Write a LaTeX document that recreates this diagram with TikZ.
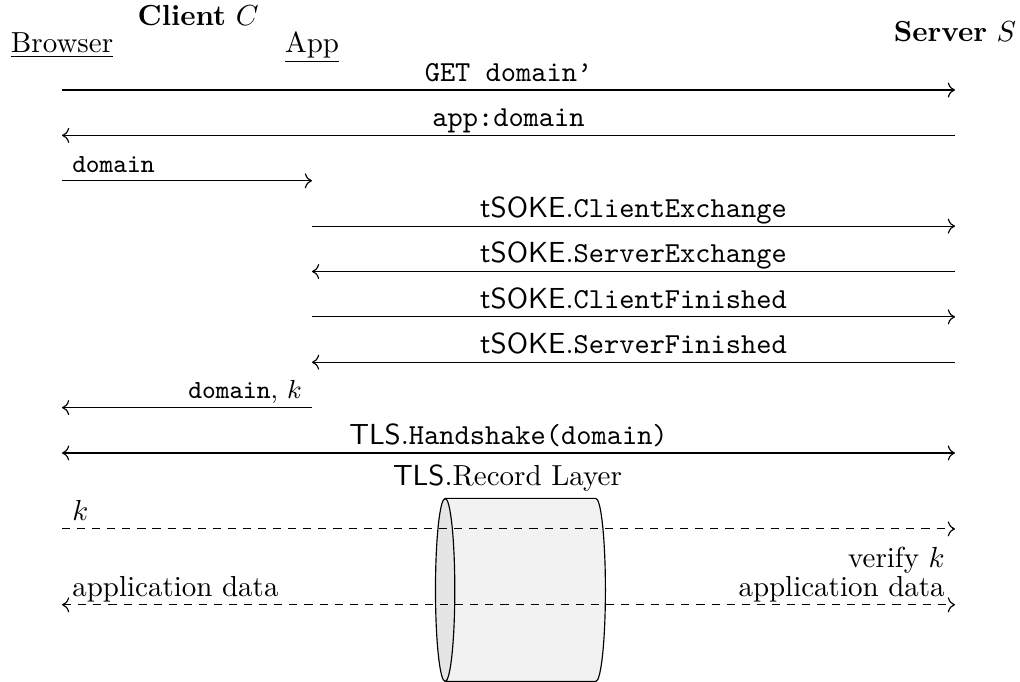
\documentclass[tikz,border=0pt]{standalone}
\usepackage{amsmath}
\usepackage{tikz}
\usetikzlibrary{arrows.meta,positioning,shapes.geometric}

\begin{document}
\begin{tikzpicture}[
    party/.style={inner sep=0pt, anchor=base},
    arrow/.style={->},
    dasharrow/.style={->, dash pattern=on 2.8pt off 2.4pt},
    lbl/.style={inner ysep=2.8pt, text depth=0pt},
    sidelbl/.style={lbl, font=\small},
    channel/.style={cylinder, shape border rotate=180, draw, aspect=1, minimum width=2.22cm, minimum height=2.06cm, cylinder uses custom fill, cylinder body fill=gray!10, cylinder end fill=gray!20}
]
\useasboundingbox (-0.752,-7.176) rectangle (11.612,1.091);

% Parties
\node[party] (browser) at (0,0.46) {\underline{Browser}};
\node[party] (app) at (3.03,0.46) {\underline{App}};
\node[party] (client) at (1.65,0.776) {\textbf{Client} $C$};
\node[party] (server) at (10.824,0.594) {\textbf{Server} $S$};

% Message rows on the three lifelines
\foreach \row/\y in {1/0,2/-0.55,3/-1.1,4/-1.65,5/-2.2,6/-2.75,7/-3.3,8/-3.85,9/-4.4,10/-5.32,11/-6.24}{
    \coordinate (b\row) at (0,\y);
    \coordinate (a\row) at (3.03,\y);
    \coordinate (s\row) at (10.824,\y);
}

% Messages
\draw[arrow] (b1) -- node[above, lbl] {\texttt{GET domain’}} (s1);
\draw[arrow] (s2) -- node[above, lbl] {\texttt{app:domain}} (b2);
\draw[arrow] (b3) -- node[pos=0, anchor=south west, sidelbl] {\texttt{domain}} (a3);
\draw[arrow] (a4) -- node[above, lbl] {$\mathsf{tSOKE}$.\texttt{ClientExchange}} (s4);
\draw[arrow] (s5) -- node[above, lbl] {$\mathsf{tSOKE}$.\texttt{ServerExchange}} (a5);
\draw[arrow] (a6) -- node[above, lbl] {$\mathsf{tSOKE}$.\texttt{ClientFinished}} (s6);
\draw[arrow] (s7) -- node[above, lbl] {$\mathsf{tSOKE}$.\texttt{ServerFinished}} (a7);
\draw[arrow] (a8) -- node[pos=0, anchor=south east, sidelbl] {\texttt{domain}, $k$} (b8);
\draw[<->] (b9) -- node[above, lbl] {$\mathsf{TLS}$.\texttt{Handshake(domain)}} (s9);

% Record layer
\node[channel, label={[name=reclbl, xshift=-7pt, yshift=-1.3pt]above:$\mathsf{TLS}$.Record Layer}] (record) at (5.645,-6.06) {};

\draw[dasharrow] (b10) -- node[pos=0, anchor=south west, lbl] {$k$} (s10);
\draw[dasharrow, <->] (b11) -- node[pos=0, anchor=south west, lbl] {application data}
    node[pos=1, anchor=south east, lbl, align=right] {verify $k$\\[-2.3pt]application data} (s11);
\end{tikzpicture}
\end{document}
